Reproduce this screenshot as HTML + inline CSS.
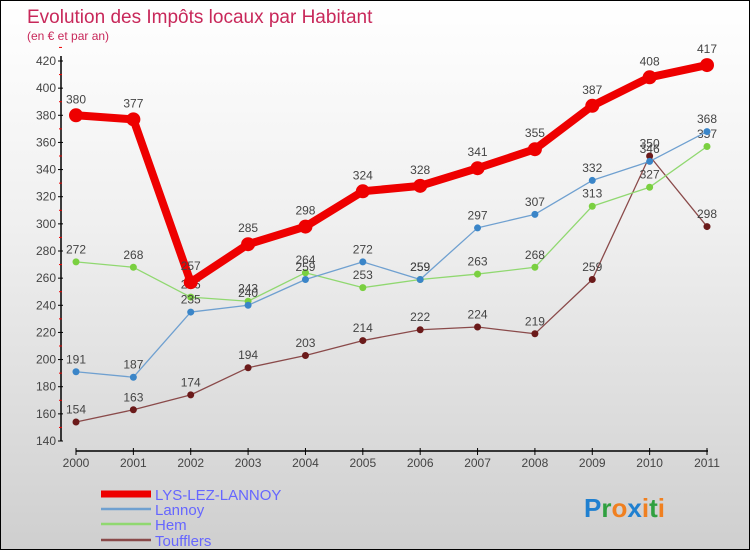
<!DOCTYPE html>
<html><head><meta charset="utf-8"><style>
body{margin:0;}
#wrap{width:748px;height:548px;border:1px solid #000;background:linear-gradient(#fff,#f0f0f0 40%,#cfcfcf);position:relative;overflow:hidden;font-family:"Liberation Sans",sans-serif;}
</style></head><body>
<div id="wrap">
<svg id="chart" width="748" height="548"></svg>
</div>
<script>
const years=["2000","2001","2002","2003","2004","2005","2006","2007","2008","2009","2010","2011"];
const yTicks=[140,160,180,200,220,240,260,280,300,320,340,360,380,400,420];
const lys=[380,377,257,285,298,324,328,341,355,387,408,417];
const lannoy=[191,187,235,240,259,272,259,297,307,332,346,368];
const hem=[272,268,246,243,264,253,259,263,268,313,327,357];
const toufflers=[154,163,174,194,203,214,222,224,219,259,350,298];

const NS="http://www.w3.org/2000/svg";
const svg=document.getElementById('chart');
const X=i=>75+i*(706-75)/11;
const Y=v=>440-(v-140)*(380/280);
function mk(t,a){const e=document.createElementNS(NS,t);for(const k in a)e.setAttribute(k,a[k]);svg.appendChild(e);return e;}
function txt(x,y,s,size,fill,anchor){const e=mk('text',{x:x,y:y,'font-size':size,fill:fill,'text-anchor':anchor||'middle'});e.textContent=s;return e;}

let t=txt(26,22,"Evolution des Impôts locaux par Habitant",19,"#c8285a","start");


t=txt(26,39,"(en € et par an)",12,"#c8285a","start");



let ax=mk('line',{x1:60,y1:55,x2:60,y2:440,stroke:'#000','stroke-width':1.5});


yTicks.forEach(v=>{
  mk('line',{x1:57,x2:62,y1:Y(v),y2:Y(v),stroke:'#000'});
  mk('line',{x1:58,x2:61,y1:Y(v+10),y2:Y(v+10),stroke:'#e00'});
  const l=txt(55,Y(v)+4,String(v),12,'#444','end');
  
  
});
ax=mk('line',{x1:75,y1:450,x2:707,y2:450,stroke:'#000','stroke-width':1.5});


years.forEach((y,i)=>{
  mk('line',{x1:X(i),x2:X(i),y1:447,y2:454,stroke:'#000'});
  const l=txt(X(i),466,y,12,'#444');
  
  
});

function series(data,color,w,r,name,labColor){
  const g=document.createElementNS(NS,'g');svg.appendChild(g);
  
  
  const pl=document.createElementNS(NS,'polyline');
  pl.setAttribute('points',data.map((v,i)=>X(i)+','+Y(v)).join(' '));
  pl.setAttribute('fill','none');pl.setAttribute('stroke',color);pl.setAttribute('stroke-width',w);pl.setAttribute('stroke-linejoin','round');
  g.appendChild(pl);
  data.forEach((v,i)=>{
    const c=document.createElementNS(NS,'circle');
    c.setAttribute('cx',X(i));c.setAttribute('cy',Y(v));c.setAttribute('r',r);c.setAttribute('fill',labColor);
    
    
    g.appendChild(c);
    const l=document.createElementNS(NS,'text');
    l.setAttribute('x',X(i));l.setAttribute('y',Y(v)-(r+5));l.setAttribute('font-size',12);l.setAttribute('fill','#444');l.setAttribute('text-anchor','middle');
    l.textContent=v;
    
    
    g.appendChild(l);
  });
}
series(toufflers,'#8a4a4a',1.3,3.5,'toufflers','#6b1a1a');
series(hem,'#90d870',1.3,3.5,'hem','#7ad040');
series(lannoy,'#6fa0d0',1.3,3.5,'lannoy','#3a85c8');
series(lys,'#ee0000',8,7,'lys-lez-lannoy','#ee0000');

const leg=[["LYS-LEZ-LANNOY","#ee0000",7],["Lannoy","#6fa0d0",2.5],["Hem","#90d870",2.5],["Toufflers","#8a4a4a",2.5]];
leg.forEach((d,i)=>{
  const y=[493,508,523,539][i];
  const ln=mk('line',{x1:100,x2:150,y1:y,y2:y,stroke:d[1],'stroke-width':d[2]});
  
  
  const l=txt(154,y+6,d[0],15,'#6666ff','start');
  
  
});
const p=mk('text',{x:583,y:516,'font-size':26,'font-weight':'bold'});


[["P","#2080d0"],["r","#30a040"],["o","#f08020"],["x","#2080d0"],["i","#f08020"],["t","#30a040"],["i","#f08020"]].forEach(c=>{const s=document.createElementNS(NS,'tspan');s.setAttribute('fill',c[1]);s.textContent=c[0];p.appendChild(s);});
</script>
</body></html>
